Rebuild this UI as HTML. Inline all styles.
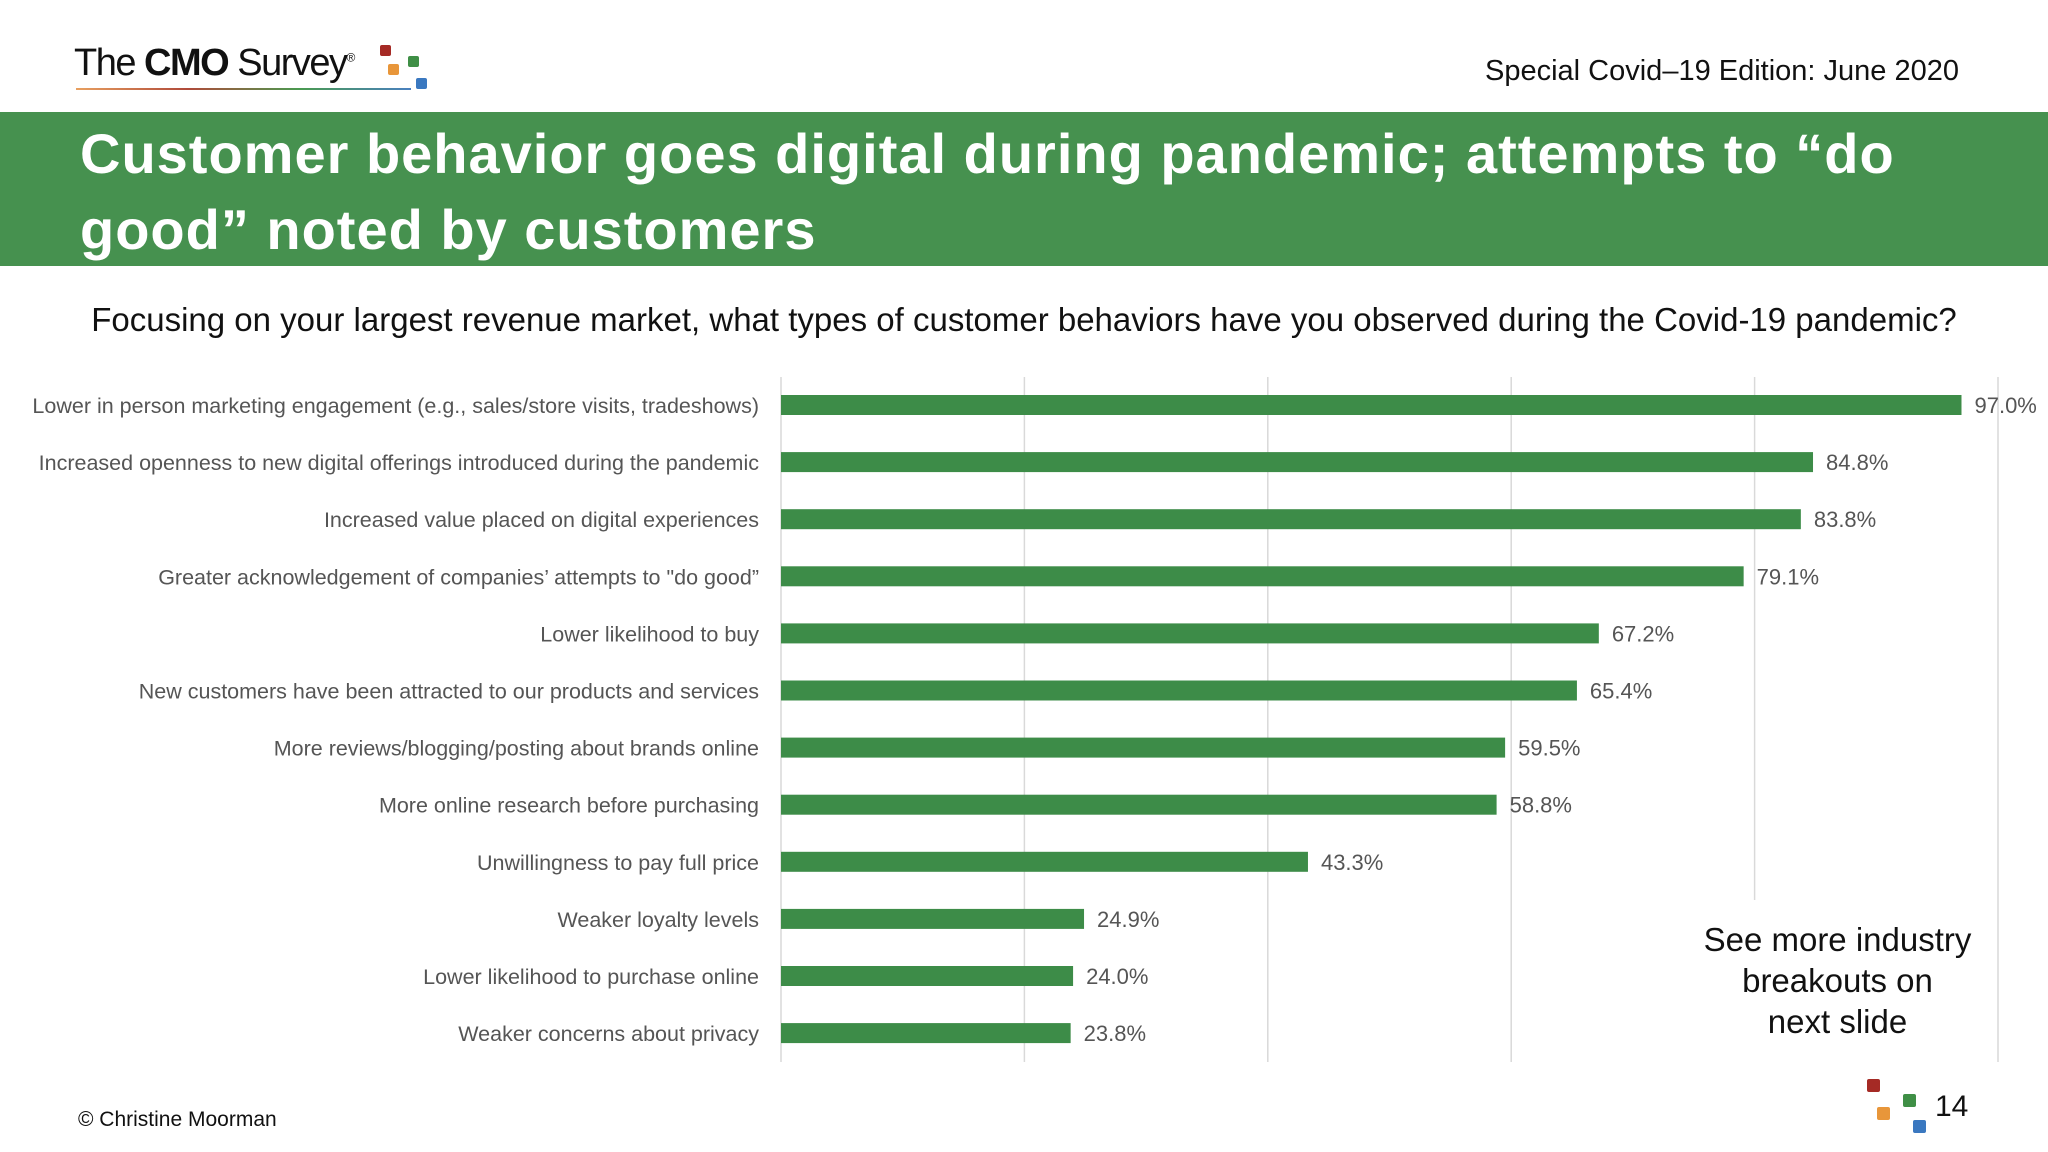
<!DOCTYPE html>
<html><head><meta charset="utf-8">
<style>
body{margin:0;width:2048px;height:1152px;background:#fff;position:relative;overflow:hidden;font-family:"Liberation Sans",sans-serif;}
.abs{position:absolute;}
.sq{position:absolute;width:11px;height:11px;border-radius:2px;}
</style></head>
<body>
<div class="abs" style="left:74px;top:42px;font-size:38px;color:#111;letter-spacing:-1.5px;">The <b>CMO</b> Survey<sup style="font-size:12px">®</sup></div>
<div class="abs" style="left:76px;top:88px;width:335px;height:2px;background:linear-gradient(90deg,#e8a060,#b04a3a,#4a9a50,#4a80c0);"></div>
<div class="sq" style="left:380px;top:45px;background:#a52a25"></div>
<div class="sq" style="left:388px;top:64px;background:#e8963a"></div>
<div class="sq" style="left:408px;top:56px;background:#3f8f46"></div>
<div class="sq" style="left:416px;top:78px;background:#3a78c0"></div>
<div class="abs" style="right:89px;top:55px;font-size:29px;color:#111;">Special Covid–19 Edition: June 2020</div>
<div class="abs" style="left:0;top:112px;width:2048px;height:154px;background:#46914f;"></div>
<div class="abs" style="left:80px;top:116px;width:1960px;font-family:'Liberation Sans',sans-serif;font-weight:bold;font-size:56px;line-height:76px;color:#fff;letter-spacing:1px;white-space:nowrap;">Customer behavior goes digital during pandemic; attempts to “do<br>good” noted by customers</div>
<div class="abs" style="left:0;width:2048px;text-align:center;top:301px;font-size:33px;color:#111;">Focusing on your largest revenue market, what types of customer behaviors have you observed during the Covid-19 pandemic?</div>
<svg class="abs" style="left:0;top:0" width="2048" height="1152" id="chart"></svg>
<div class="abs" style="left:1685px;top:900px;width:305px;height:162px;background:#fff;"></div>
<div class="abs" style="left:1700px;top:919px;width:275px;text-align:center;font-size:33px;line-height:41px;color:#111;">See more industry breakouts on<br>next slide</div>
<div class="abs" style="left:78px;top:1108px;font-size:21px;color:#111;">© Christine Moorman</div>
<div class="sq" style="left:1867px;top:1079px;width:13px;height:13px;background:#a52a25"></div>
<div class="sq" style="left:1877px;top:1107px;width:13px;height:13px;background:#e8963a"></div>
<div class="sq" style="left:1903px;top:1094px;width:13px;height:13px;background:#3f8f46"></div>
<div class="sq" style="left:1913px;top:1120px;width:13px;height:13px;background:#3a78c0"></div>
<div class="abs" style="left:1935px;top:1090px;font-size:30px;color:#111;">14</div>
<script>
const categories=["Lower in person marketing engagement (e.g., sales/store visits, tradeshows)","Increased openness to new digital offerings introduced during the pandemic","Increased value placed on digital experiences","Greater acknowledgement of companies’ attempts to \"do good”","Lower likelihood to buy","New customers have been attracted to our products and services","More reviews/blogging/posting about brands online","More online research before purchasing","Unwillingness to pay full price","Weaker loyalty levels","Lower likelihood to purchase online","Weaker concerns about privacy"];
const values=[97.0,84.8,83.8,79.1,67.2,65.4,59.5,58.8,43.3,24.9,24.0,23.8];
const gridTicks=[0,20,40,60,80,100];
const svg=document.getElementById('chart');
const NS='http://www.w3.org/2000/svg';
const x0=781,x100=1998,yTop=377,yBot=1062,row0=405,rowStep=57.1,barH=20;
const xs=v=>x0+(x100-x0)*v/100;
const ys=i=>row0+i*rowStep;
gridTicks.forEach(t=>{
  const l=document.createElementNS(NS,'line');
  l.setAttribute('x1',xs(t));l.setAttribute('x2',xs(t));
  l.setAttribute('y1',yTop);l.setAttribute('y2',yBot);
  l.setAttribute('stroke','#d9d9d9');l.setAttribute('stroke-width','1.5');
  
  
  svg.appendChild(l);
});
categories.forEach((c,i)=>{
  const y=ys(i);
  const lab=document.createElementNS(NS,'text');
  lab.setAttribute('x',759);lab.setAttribute('y',y+8);
  lab.setAttribute('text-anchor','end');lab.setAttribute('font-size','21.5');
  lab.setAttribute('fill','#555');lab.setAttribute('font-family','Liberation Sans, sans-serif');
  lab.textContent=c;
  
  
  svg.appendChild(lab);
  const r=document.createElementNS(NS,'rect');
  r.setAttribute('x',x0);r.setAttribute('y',y-barH/2);
  r.setAttribute('width',xs(values[i])-x0);r.setAttribute('height',barH);
  r.setAttribute('fill','#3d8c48');
  
  
  svg.appendChild(r);
  const v=document.createElementNS(NS,'text');
  v.setAttribute('x',xs(values[i])+13);v.setAttribute('y',y+8);
  v.setAttribute('font-size','22');v.setAttribute('fill','#555');
  v.setAttribute('font-family','Liberation Sans, sans-serif');
  v.textContent=values[i].toFixed(1)+'%';
  
  
  svg.appendChild(v);
});
</script>
</body></html>
